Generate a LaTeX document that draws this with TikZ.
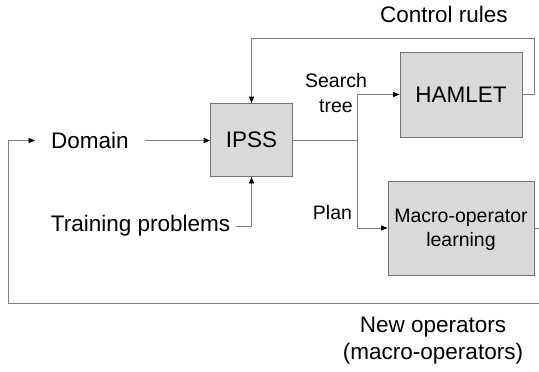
\documentclass[tikz,border=0pt]{standalone}
\usepackage{fontspec}
\setmainfont{Liberation Sans}
\usepackage{tikz}
\usetikzlibrary{calc}
\usetikzlibrary{arrows.meta}
\definecolor{boxfill}{HTML}{D9D9D9}
\definecolor{boxline}{HTML}{747474}
\definecolor{flowline}{HTML}{7F7F7F}
\tikzset{node style box/.style={draw=boxline, fill=boxfill, line width=0.8pt, inner sep=0pt, font=\fontsize{22.5}{27}\selectfont}}
\tikzset{node style big/.style={inner sep=0pt, align=center, font=\fontsize{22.5}{27}\selectfont}}
\tikzset{node style small/.style={inner sep=0pt, align=center, font=\fontsize{19.5}{25}\selectfont}}
\tikzset{line style ge/.style={draw=flowline, line width=0.8pt}}
\tikzset{arrow style ge/.style={line style ge, -{Triangle[length=6.5pt,width=5pt,color=black]}}}

\begin{document}
\begin{tikzpicture}[x=1pt,y=-1pt]
   % [[[
   \useasboundingbox (0,0) rectangle (539,372);

   % the three blocks
   \node (ipss) [node style box, minimum width=82pt, minimum height=73pt] at (251.5,140) {IPSS};
   \node (hamlet) [node style box, minimum width=122pt, minimum height=85pt] at (461,94.5) {HAMLET};
   \node (macro) [node style box, align=center, minimum width=146pt, minimum height=94pt, text depth=0pt,
                  font=\fontsize{19.5}{24}\selectfont] at (461,228) {Macro-operator\\learning};

   % inputs
   \node (domain) [node style big, inner xsep=16pt] at (90,140.5) {Domain};
   \node (training) [node style big, inner xsep=6pt] at (140.5,226) {Training problems};

   % labels on the flows
   \node (searchtree) [node style small] at (336,93) {Search\\tree};
   \node (plan) [node style small] at (332.5,213) {Plan};
   \node (rules) [node style big] at (444,14) {Control rules};
   \node (newops) [node style big] at (433,341) {New operators\\(macro-operators)};

   %TODO the loops run off the right edge, hack the corner points by hand
   \coordinate (split) at ($(ipss.east)+(64.5,0)$);
   \coordinate (loop ne) at (534,38);
   \coordinate (loop se) at (548,303);
   \coordinate (loop sw) at (8,303);

   \draw [arrow style ge] (domain.east) -- (domain.east -| ipss.west);
   \draw [arrow style ge] (training.east) -| (ipss.south);
   \draw [line style ge] (ipss.east) -- (split);
   \draw [arrow style ge] (split) |- (hamlet.west);
   \draw [arrow style ge] (split) |- (macro.west);
   \draw [arrow style ge] (hamlet.east) -| (loop ne) -| (ipss.north);
   \draw [arrow style ge] (macro.east) -| (loop se) -- (loop sw) |- (domain.west);
   % ]]]
\end{tikzpicture}
\end{document}
